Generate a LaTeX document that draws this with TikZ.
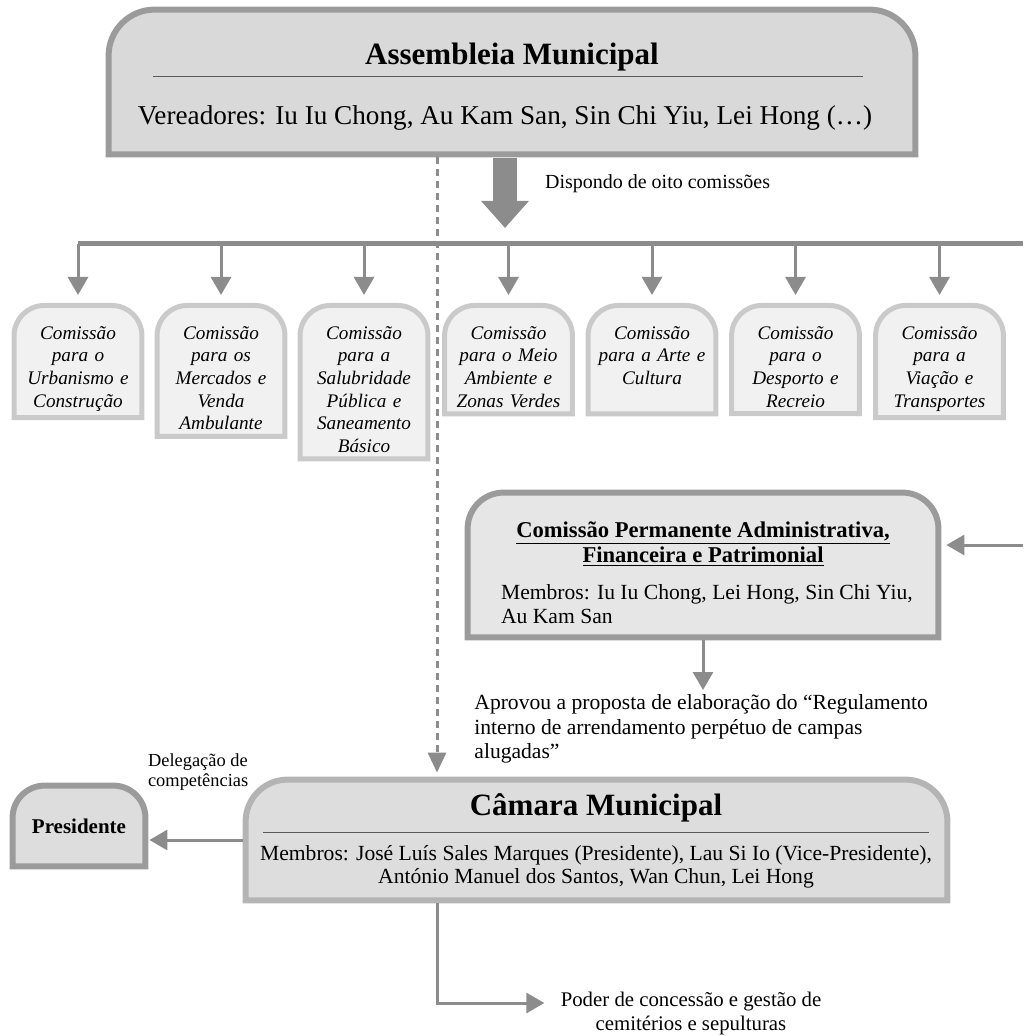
\documentclass[tikz,border=0pt]{standalone}
\usepackage{fontspec}
\setmainfont{Liberation Serif}
\usepackage{tikz}
\usetikzlibrary{arrows.meta, positioning, backgrounds, calc}
\definecolor{linegray}{RGB}{140,140,140}
\definecolor{framedark}{RGB}{155,155,155}
\definecolor{framemid}{RGB}{180,180,180}
\definecolor{framelight}{RGB}{202,202,202}
\definecolor{assemblyfill}{RGB}{217,217,217}
\definecolor{camarafill}{RGB}{221,221,221}
\definecolor{permanentfill}{RGB}{230,230,230}
\definecolor{commissionfill}{RGB}{241,241,241}
\definecolor{rulegray}{RGB}{90,90,90}

% frame with rounded top corners: node, node for the bottom, radius, extra top, style
\newcommand{\tombframe}[5]{%
  \begin{pgfonlayer}{background}
    \path[#5] (#1.south |- #2.south) [sharp corners] -- (#1.west |- #2.south) [rounded corners=#3] -- ([yshift=#4]#1.north west) -- ([yshift=#4]#1.north east) [sharp corners] -- (#1.east |- #2.south) -- cycle;
  \end{pgfonlayer}}

\begin{document}
\begin{tikzpicture}[x=0.5pt, y=-0.5pt,
    framenode/.style={inner sep=0pt},
    assemblyframe/.style={draw=framedark, line width=3pt, fill=assemblyfill},
    permanentframe/.style={draw=framedark, line width=3pt, fill=permanentfill},
    camaraframe/.style={draw=framemid, line width=3pt, fill=camarafill},
    presidentframe/.style={draw=framedark, line width=3pt, fill=camarafill},
    comframe/.style={draw=framelight, line width=2.5pt, fill=commissionfill},
    commission/.style={font=\fontsize{9.6}{11.3}\selectfont\itshape, align=center, text width=63.5pt, inner xsep=0pt, inner ysep=3pt, anchor=north},
    bodytext/.style={font=\fontsize{10.8}{11.75}\selectfont},
    smalltext/.style={font=\fontsize{9.2}{10.2}\selectfont, align=left},
    seprule/.style={draw=rulegray, line width=0.5pt},
    branch/.style={-{Triangle[length=9pt, width=10pt]}, color=linegray, line width=1.5pt},
    fatarrow/.style={-{Triangle[length=13.5pt, width=23pt]}, color=linegray, line width=12pt},
    dasharrow/.style={-{Triangle[length=10pt, width=9pt]}, color=linegray, line width=1.5pt, dash pattern=on 3.5pt off 2.5pt},
    bus/.style={color=linegray, line width=2.5pt}]
    \useasboundingbox (0,0) rectangle (1023,1036);

    % Assembleia Municipal
    \node[framenode, minimum width=403pt, minimum height=72pt] (assembleia) at (512,82) {};
    \tombframe{assembleia}{assembleia}{23pt}{0pt}{assemblyframe}
    \node[font=\fontsize{15.5}{18}\selectfont\bfseries] (asstitle) at (512,57) {Assembleia Municipal};
    \draw[seprule] (153,77) -- (863,77);
    \node[font=\fontsize{13.6}{16}\selectfont] (vereadores) at (505,118) {Vereadores: Iu Iu Chong, Au Kam San, Sin Chi Yiu, Lei Hong (…)};

    % Eight commissions
    \coordinate (fattop) at (505,158);
    \coordinate (fattip) at (505,228);
    \draw[fatarrow] (fattop) -- (fattip);
    \node[font=\fontsize{10}{12}\selectfont, anchor=west] (dispondo) at (538,184) {Dispondo de oito comissões};

    \coordinate (busL) at (78,244);
    \coordinate (busR) at (1023,244);
    \draw[bus] (busL) -- (busR);

    \node[commission] (c1) at (78,320) {Comissão\\para o\\Urbanismo e\\Construção};
    \node[commission] (c2) at (221,320) {Comissão\\para os\\Mercados e\\Venda\\Ambulante};
    \node[commission] (c3) at (364,320) {Comissão\\para a\\Salubridade\\Pública e\\Saneamento\\Básico};
    \node[commission] (c4) at (508.5,320) {Comissão\\para o Meio\\Ambiente e\\Zonas Verdes};
    \node[commission] (c5) at (652,320) {Comissão\\para a Arte e\\Cultura};
    \node[commission] (c6) at (795.5,320) {Comissão\\para o\\Desporto e\\Recreio};
    \node[commission] (c7) at (939.5,320) {Comissão\\para a\\Viação e\\Transportes};
    \foreach \c/\b in {c1/c1,c2/c2,c3/c3,c4/c4,c5/c4,c6/c6,c7/c7}
        \tombframe{\c}{\b}{15pt}{7.25pt}{comframe};
    \foreach \i in {1,...,7}
        \draw[branch] (c\i.north |- busL) -- ([yshift=12.5pt]c\i.north);

    % Comissao Permanente
    \node[framenode, minimum width=235pt, minimum height=72pt] (permanente) at (703,565) {};
    \tombframe{permanente}{permanente}{18pt}{0pt}{permanentframe}
    \node[font=\fontsize{11.3}{12.5}\selectfont\bfseries, align=center] (permtitle) at (703,544) {\underline{Comissão Permanente Administrativa,}\\\underline{Financeira e Patrimonial}};
    \node[bodytext, align=left, anchor=west] (permmembers) at (494,604) {Membros: Iu Iu Chong, Lei Hong, Sin Chi Yiu,\\Au Kam San};
    \coordinate (rightin) at (1023,545);
    \draw[branch, shorten >=4pt] (rightin) -- (permanente.east |- rightin);

    \node[bodytext, font=\fontsize{10.8}{12.4}\selectfont, align=left, anchor=north west, inner sep=0pt] (aprovou) at (474,694) {Aprovou a proposta de elaboração do “Regulamento\\interno de arrendamento perpétuo de campas\\alugadas”};
    \draw[branch, shorten <=1.5pt, shorten >=2pt] (permanente.south) -- (permanente.south |- aprovou.north);

    % Camara Municipal
    \node[framenode, minimum width=350.5pt, minimum height=60pt] (camara) at (596.5,840) {};
    \tombframe{camara}{camara}{21pt}{0pt}{camaraframe}
    \node[font=\fontsize{15.5}{18}\selectfont\bfseries] (camtitle) at (596,808) {Câmara Municipal};
    \draw[seprule] (263,832) -- (929,832);
    \node[bodytext, align=center] (cammembers) at (596,867) {Membros: José Luís Sales Marques (Presidente), Lau Si Io (Vice-Presidente),\\António Manuel dos Santos, Wan Chun, Lei Hong};

    % Dashed link
    \coordinate (dashx) at (437,0);
    \draw[dasharrow, shorten <=1.5pt, shorten >=3.5pt] (assembleia.south -| dashx) -- (camara.north -| dashx);

    % Presidente
    \node[framenode, minimum width=66pt, minimum height=40pt, font=\fontsize{10.5}{12}\selectfont\bfseries] (presidente) at (79,826) {Presidente};
    \tombframe{presidente}{presidente}{16pt}{0pt}{presidentframe}
    \draw[branch, shorten <=1.5pt, shorten >=2pt] (camara.west) -- (presidente.east |- camara.west);
    \node[smalltext, anchor=west] (delegacao) at (141,772) {Delegação de\\competências};

    % Cemeteries
    \node[font=\fontsize{10.4}{12}\selectfont, align=center, inner sep=0pt] (poder) at (691,1013) {Poder de concessão e gestão de\\cemitérios e sepulturas};
    \draw[branch, shorten <=1.5pt, shorten >=8pt] (camara.south -| dashx) |- ([yshift=5pt]poder.west);

\end{tikzpicture}
\end{document}
